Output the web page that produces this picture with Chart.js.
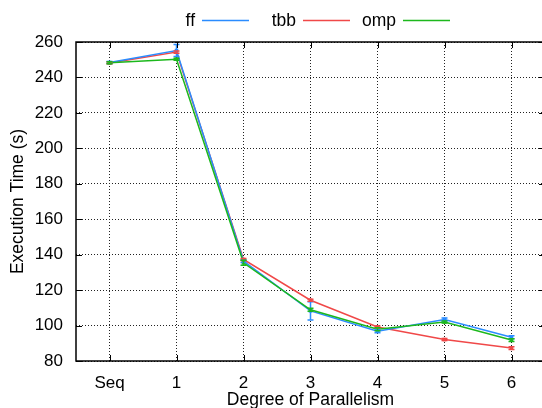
<!DOCTYPE html>
<html>
<head>
<meta charset="utf-8">
<script src="https://cdn.jsdelivr.net/npm/chart.js@4.4.1/dist/chart.umd.min.js"></script>
<style>
  html, body { margin: 0; padding: 0; background: #fff; overflow: hidden; }
  #wrap { width: 550px; height: 408px; }
</style>
</head>
<body>
<div id="wrap"><canvas id="chart" width="550" height="408"></canvas></div>
<script>
// values
const degrees = ['Seq', '1', '2', '3', '4', '5', '6'];
const ffTime  = [248.4, 255.2, 136.4, 108.3, 96.8, 103.4, 93.4];
const ffErr   = [0.6, 3.4, 0.8, 5.2, 0.8, 0.8, 0.8];
const tbbTime = [248.2, 254.3, 137.3, 114.3, 99.2, 92.1, 87.3];
const tbbErr  = [0.5, 0.6, 0.6, 0.6, 0.6, 0.6, 0.8];
const ompTime = [248.3, 250.3, 135.4, 108.9, 97.9, 102.0, 91.8];
const ompErr  = [0.6, 0.6, 1.4, 0.8, 0.8, 0.6, 0.8];
const yTicks  = [80, 100, 120, 140, 160, 180, 200, 220, 240, 260];

const FONT = 'Liberation Sans, Arial, Helvetica, sans-serif';

// gnuplot style frame: solid border + inward tick marks
const framePlugin = {
  id: 'frame',
  afterDraw(chart) {
    const {ctx, chartArea: a, scales} = chart;
    ctx.save();
    ctx.strokeStyle = '#000';
    ctx.lineWidth = 1;
    ctx.beginPath();
    scales.x.ticks.forEach((t, i) => {
      const x = Math.round(scales.x.getPixelForTick(i)) + 0.5;
      ctx.moveTo(x, a.bottom); ctx.lineTo(x, a.bottom - 6);
      ctx.moveTo(x, a.top); ctx.lineTo(x, a.top + 6);
    });
    scales.y.ticks.forEach((t) => {
      const y = Math.round(scales.y.getPixelForValue(t.value)) + 0.5;
      ctx.moveTo(a.left, y); ctx.lineTo(a.left + 6, y);
      ctx.moveTo(a.right, y); ctx.lineTo(a.right - 6, y);
    });
    ctx.stroke();
    ctx.lineWidth = 1.5;
    ctx.strokeRect(a.left, a.top, a.right - a.left, a.bottom - a.top);
    ctx.restore();
  }
};

// error bars with small caps
const errorPlugin = {
  id: 'errbars',
  afterDatasetsDraw(chart) {
    const {ctx, scales} = chart;
    chart.data.datasets.forEach((ds, di) => {
      const meta = chart.getDatasetMeta(di);
      ctx.save();
      ctx.strokeStyle = ds.borderColor;
      ctx.lineWidth = 1.5;
      meta.data.forEach((pt, i) => {
        const e = ds.err[i];
        const y1 = scales.y.getPixelForValue(ds.data[i] + e);
        const y2 = scales.y.getPixelForValue(ds.data[i] - e);
        ctx.beginPath();
        ctx.moveTo(pt.x, y1); ctx.lineTo(pt.x, y2);
        ctx.moveTo(pt.x - 3, y1); ctx.lineTo(pt.x + 3, y1);
        ctx.moveTo(pt.x - 3, y2); ctx.lineTo(pt.x + 3, y2);
        ctx.stroke();
      });
      ctx.restore();
    });
  }
};

// legend: label text followed by a line sample
const legendPlugin = {
  id: 'keyline',
  afterDraw(chart) {
    const {ctx} = chart;
    const starts = [202, 303, 403];
    ctx.save();
    ctx.font = '17.5px ' + FONT;
    ctx.textAlign = 'right';
    ctx.textBaseline = 'middle';
    chart.data.datasets.forEach((ds, i) => {
      const x = starts[i];
      ctx.fillStyle = '#000';
      ctx.fillText(ds.label, x - 7, 21);
      ctx.strokeStyle = ds.borderColor;
      ctx.lineWidth = 1.5;
      ctx.beginPath();
      ctx.moveTo(x, 20.5); ctx.lineTo(x + 47, 20.5);
      ctx.stroke();
    });
    ctx.restore();
  }
};

function series(label, data, err, color, order) {
  return {
    label: label, data: data, err: err, order: order,
    borderColor: color, backgroundColor: color,
    borderWidth: 1.5, tension: 0,
    pointStyle: 'rect', pointRadius: 2.5, pointBorderWidth: 0
  };
}

new Chart(document.getElementById('chart'), {
  type: 'line',
  data: {
    labels: degrees,
    datasets: [
      series('ff', ffTime, ffErr, '#2a8cff', 2),
      series('tbb', tbbTime, tbbErr, '#f04848', 3),
      series('omp', ompTime, ompErr, '#1cb81c', 1)
    ]
  },
  options: {
    responsive: false,
    animation: false,
    layout: { padding: { top: 42, right: 5, left: 0, bottom: 0 } },
    plugins: { legend: { display: false }, tooltip: { enabled: false } },
    scales: {
      x: {
        type: 'category',
        offset: true,
        grid: { offset: false, drawTicks: false, color: '#222', lineWidth: 1 },
        border: { display: false, dash: [1, 2] },
        ticks: { color: '#000', font: { family: FONT, size: 17 }, padding: 12, maxRotation: 0 },
        title: { display: true, text: 'Degree of Parallelism', color: '#000',
                 font: { family: FONT, size: 17.5 }, padding: { top: 0, bottom: -3 } },
        afterFit(s) { s.height = 47; }
      },
      y: {
        min: 80, max: 260,
        afterBuildTicks(s) { s.ticks = yTicks.map(v => ({ value: v })); },
        grid: { drawTicks: false, color: '#222', lineWidth: 1 },
        border: { display: false, dash: [1, 2] },
        ticks: { color: '#000', font: { family: FONT, size: 17 }, padding: 13 },
        title: { display: true, text: 'Execution Time (s)', color: '#000',
                 font: { family: FONT, size: 17.5 }, padding: { top: 8, bottom: 0 } },
        afterFit(s) { s.width = 76; }
      }
    }
  },
  plugins: [errorPlugin, framePlugin, legendPlugin]
});
</script>
</body>
</html>
